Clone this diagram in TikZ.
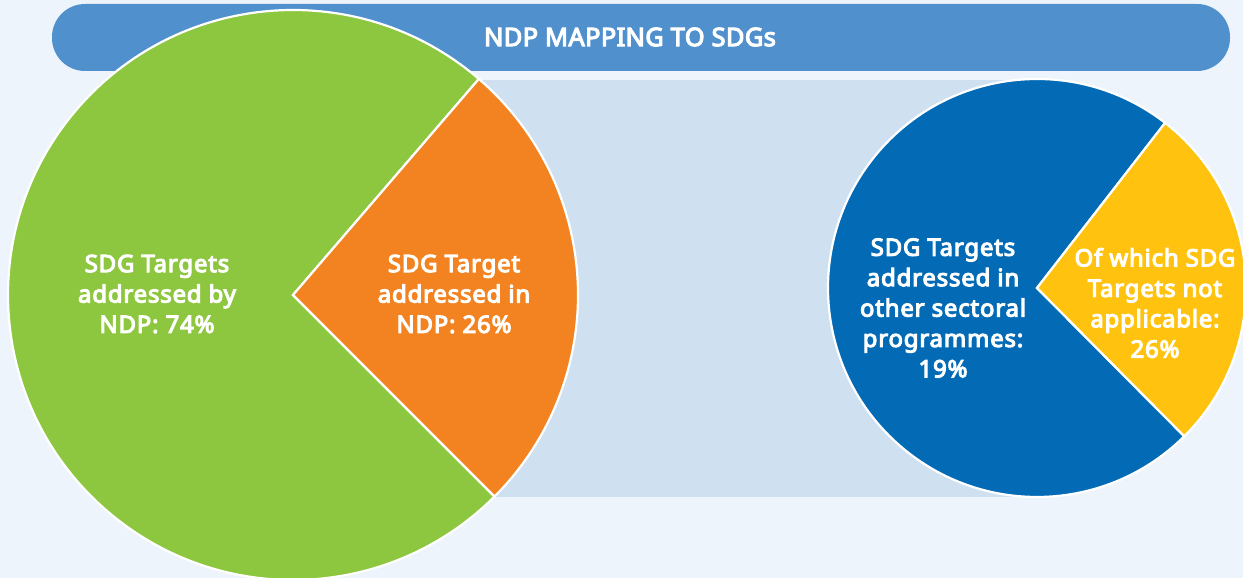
\documentclass[tikz,border=0pt]{standalone}
\usepackage{fontspec}
\setmainfont{Noto Sans}
\newfontfamily\labelfont{Noto Sans}[FakeBold=4.5,LetterSpace=3.5]
\newfontfamily\titlefont{Noto Sans}[FakeBold=4.5,LetterSpace=1.5]
\usepackage{tikz}
\usetikzlibrary{backgrounds}
\definecolor{pagebg}{HTML}{EEF4FB}
\definecolor{bandbg}{HTML}{CFE0F1}
\definecolor{titlebar}{HTML}{5090CD}
\definecolor{ndpgreen}{HTML}{8DC63F}
\definecolor{ndporange}{HTML}{F38321}
\definecolor{secblue}{HTML}{036BB6}
\definecolor{nayellow}{HTML}{FFC20E}

\begin{document}
\begin{tikzpicture}[x=1bp,y=1bp,
  slice/.style={draw=white,line width=2.2bp,line join=miter},
  lbl/.style={text=white,font=\labelfont\fontsize{24}{30.5}\selectfont,align=center}]
  \fill[pagebg](0,0) rectangle (1243,578);
  \useasboundingbox(0,0) rectangle (1243,578);
  \fill[bandbg](293,81) rectangle (1037,498);
  \fill[titlebar,rounded corners=33bp](52,507) rectangle (1230,574);
  \node[text=white,font=\titlefont\fontsize{25.5}{28}\selectfont] (title) at (630,541) {NDP MAPPING TO SDGs};
  % left pie
  \coordinate (lc) at (293,283);
  \fill[ndpgreen,slice](lc)--+(49.3:285) arc[start angle=49.3,end angle=315,radius=285]--cycle;
  \fill[ndporange,slice](lc)--+(-45:285) arc[start angle=-45,end angle=49.3,radius=285]--cycle;
  \node[lbl] (lblndp) at (157,284) {SDG Targets\\addressed by\\NDP: 74\%};
  \node[lbl] (lblin) at (454,284) {SDG Target\\addressed in\\NDP: 26\%};
  % right pie
  \coordinate (rc) at (1037,290);
  \fill[secblue,slice](rc)--+(52.2:209) arc[start angle=52.2,end angle=314.8,radius=209]--cycle;
  \fill[nayellow,slice](rc)--+(-45.2:209) arc[start angle=-45.2,end angle=52.2,radius=209]--cycle;
  \node[lbl] (lblother) at (943,270) {SDG Targets\\addressed in\\other sectoral\\programmes:\\19\%};
  \node[lbl] (lblna) at (1155,275) {Of which SDG\\Targets not\\applicable:\\26\%};
\end{tikzpicture}
\end{document}
